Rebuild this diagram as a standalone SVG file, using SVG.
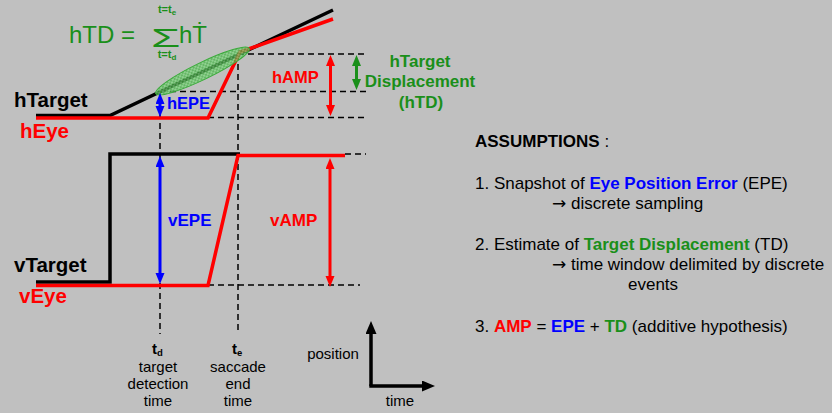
<svg xmlns="http://www.w3.org/2000/svg" width="832" height="413" viewBox="0 0 832 413">
<style>
text{font-family:"Liberation Sans",Arial,sans-serif}
.b{font-weight:bold}
.lbl{font-size:20.5px;font-weight:bold}
.as{fill:#000}
.arr{font-family:"DejaVu Sans",sans-serif}
.dash{stroke:#000;stroke-width:1.5;stroke-dasharray:6 4;fill:none}
.red{fill:#ff0000}.blue{fill:#0000ff}.green{fill:#1a8f1a}
</style>
<defs>
<marker id="ar" markerUnits="userSpaceOnUse" markerWidth="12" markerHeight="10" refX="3" refY="4.5" orient="auto-start-reverse"><path d="M0,0 L11,4.5 L0,9 z" fill="#ff0000"/></marker>
<marker id="ab" markerUnits="userSpaceOnUse" markerWidth="12" markerHeight="10" refX="3" refY="4.5" orient="auto-start-reverse"><path d="M0,0 L11,4.5 L0,9 z" fill="#0000ff"/></marker>
<marker id="ag" markerUnits="userSpaceOnUse" markerWidth="12" markerHeight="10" refX="3" refY="4.5" orient="auto-start-reverse"><path d="M0,0 L11,4.5 L0,9 z" fill="#1a8f1a"/></marker>
<marker id="ak" markerUnits="userSpaceOnUse" markerWidth="14" markerHeight="12" refX="3" refY="5.5" orient="auto"><path d="M0,0 L13,5.5 L0,11 z" fill="#000"/></marker>
<pattern id="hatch" patternUnits="userSpaceOnUse" width="4" height="4">
<rect width="4" height="4" fill="#7fd77f"/>
<path d="M0,4 L4,0 M0,0 L4,4" stroke="#3aa83a" stroke-width="0.8"/>
</pattern>
</defs>
<rect width="832" height="413" fill="#c0c0c0"/>

<g id="guides">
<line class="dash" x1="238" y1="54" x2="368" y2="54"/>
<line class="dash" x1="160" y1="91.5" x2="368" y2="91.5"/>
<line class="dash" x1="208" y1="117.5" x2="368" y2="117.5"/>
<line class="dash" x1="345" y1="154" x2="366" y2="154"/>
<line class="dash" x1="208" y1="285" x2="360" y2="285"/>
<line class="dash" x1="160" y1="93" x2="160" y2="334"/>
<line class="dash" x1="238" y1="54" x2="238" y2="334"/>
</g>

<g id="hTarget-trace">
<polyline points="36,115.5 110,115.5 333,10" fill="none" stroke="#000" stroke-width="3.5"/>
</g>
<g id="hEye-trace">
<polyline points="36,118 208,118 240,52 333,19" fill="none" stroke="#ff0000" stroke-width="3.5"/>
</g>
<g id="td-ellipse">
<ellipse cx="202.5" cy="71" rx="52" ry="8.5" transform="rotate(-25.8 202.5 71)" fill="url(#hatch)" fill-opacity="0.75" stroke="#3aaa3a" stroke-width="1"/>
</g>
<g id="vTarget-trace">
<polyline points="36,282 110,282 110,154 240,154" fill="none" stroke="#000" stroke-width="3.5"/>
</g>
<g id="vEye-trace">
<polyline points="36,285.5 208,285.5 238,155.5 345,155.5" fill="none" stroke="#ff0000" stroke-width="3.5"/>
</g>

<g id="connectors">
<line x1="160" y1="101" x2="160" y2="109" stroke="#0000ff" stroke-width="3" marker-start="url(#ab)" marker-end="url(#ab)"/>
<line x1="330.5" y1="63" x2="330.5" y2="108" stroke="#ff0000" stroke-width="3" marker-start="url(#ar)" marker-end="url(#ar)"/>
<line x1="356.5" y1="63" x2="356.5" y2="82" stroke="#1a8f1a" stroke-width="3" marker-start="url(#ag)" marker-end="url(#ag)"/>
<line x1="160" y1="164" x2="160" y2="276" stroke="#0000ff" stroke-width="3" marker-start="url(#ab)" marker-end="url(#ab)"/>
<line x1="330" y1="166" x2="330" y2="279" stroke="#ff0000" stroke-width="3" marker-start="url(#ar)" marker-end="url(#ar)"/>
</g>

<g id="formula">
<text x="69" y="43" font-size="24" class="green">hTD =</text>
<text transform="translate(151,46.5) scale(1.9,1)" x="0" y="0" font-size="25" class="green">Σ</text>
<text x="167" y="13" font-size="11" class="green b" text-anchor="middle">t=t<tspan font-size="8" dy="1.5">e</tspan></text>
<text x="167" y="58" font-size="11" class="green b" text-anchor="middle">t=t<tspan font-size="8" dy="1.5">d</tspan></text>
<text x="179" y="43" font-size="24" class="green">hṪ</text>
</g>

<g id="labels-left">
<text x="14" y="107" class="lbl">hTarget</text>
<text x="20" y="138" class="lbl red">hEye</text>
<text x="14" y="272" class="lbl">vTarget</text>
<text x="19" y="303" class="lbl red">vEye</text>
</g>

<g id="labels-mid">
<text x="167" y="109" font-size="16.5" class="b blue">hEPE</text>
<text x="272" y="83" font-size="16.5" class="b red">hAMP</text>
<text x="168" y="226" font-size="17" class="b blue">vEPE</text>
<text x="270" y="226" font-size="17" class="b red">vAMP</text>
<text font-size="17" class="b green" text-anchor="middle"><tspan x="420" y="67">hTarget</tspan><tspan x="420" y="87">Displacement</tspan><tspan x="421" y="108">(hTD)</tspan></text>
</g>

<g id="time-labels" text-anchor="middle">
<text x="152" y="354" class="b" font-size="15" text-anchor="start">t<tspan font-size="9.5" dy="1.5">d</tspan></text>
<text x="158" y="372" font-size="15">target</text>
<text x="158" y="389" font-size="15">detection</text>
<text x="158" y="406" font-size="15">time</text>
<text x="232" y="354" class="b" font-size="15" text-anchor="start">t<tspan font-size="9.5" dy="1.5">e</tspan></text>
<text x="238" y="372" font-size="15">saccade</text>
<text x="238" y="389" font-size="15">end</text>
<text x="238" y="406" font-size="15">time</text>
</g>

<g id="axes">
<polyline points="371,386 371,331" fill="none" stroke="#000" stroke-width="3.5" marker-end="url(#ak)"/>
<polyline points="369.3,386 425,386" fill="none" stroke="#000" stroke-width="3.5" marker-end="url(#ak)"/>
<text x="333" y="359" font-size="15" text-anchor="middle">position</text>
<text x="400" y="406" font-size="15" text-anchor="middle">time</text>
</g>

<g id="assumptions" class="as" font-size="17">
<text x="475" y="147"><tspan class="b">ASSUMPTIONS</tspan> :</text>
<text x="475" y="189">1. Snapshot of <tspan class="b blue">Eye Position Error</tspan> (EPE)</text>
<text x="552" y="209"><tspan class="arr">→</tspan> discrete sampling</text>
<text x="475" y="250">2. Estimate of <tspan class="b green">Target Displacement</tspan> (TD)</text>
<text x="552" y="270"><tspan class="arr">→</tspan> time window delimited by discrete</text>
<text x="628" y="290">events</text>
<text x="475" y="332">3. <tspan class="b red">AMP</tspan> = <tspan class="b blue">EPE</tspan> + <tspan class="b green">TD</tspan> (additive hypothesis)</text>
</g>
</svg>
